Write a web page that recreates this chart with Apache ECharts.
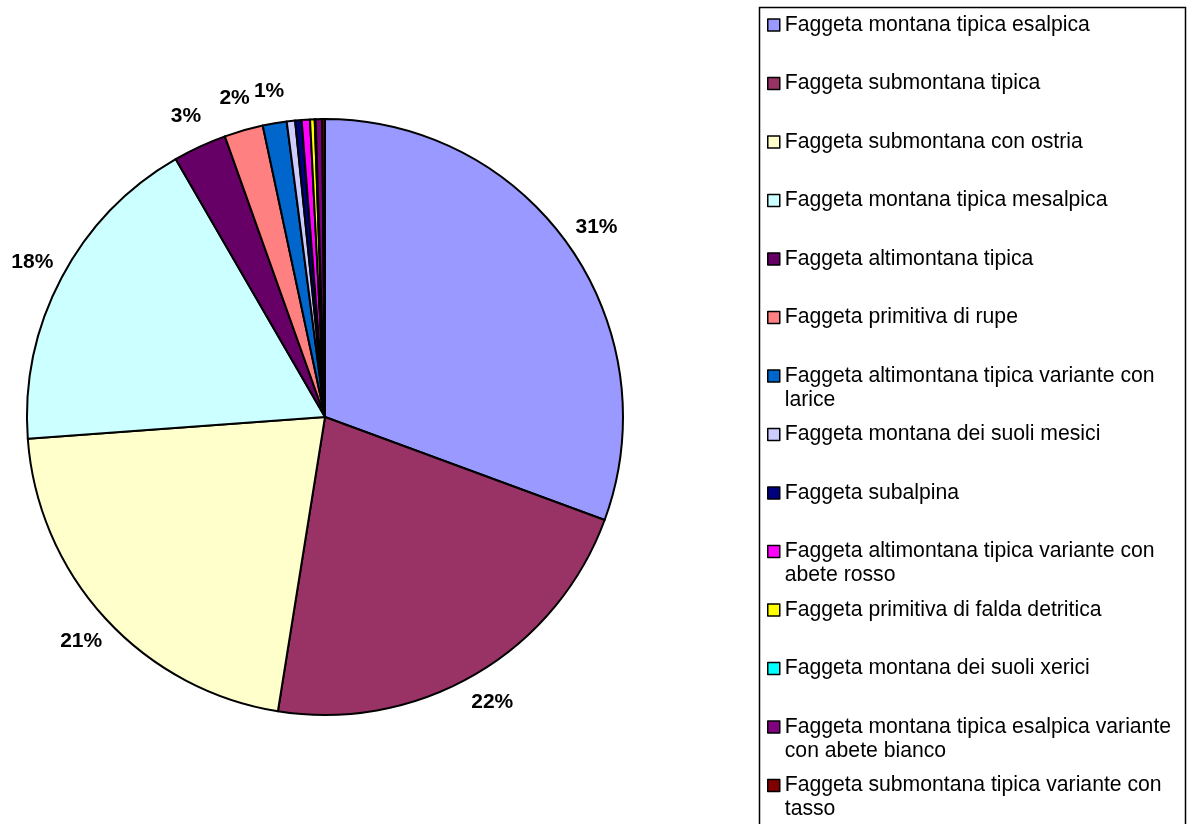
<!DOCTYPE html>
<html>
<head>
<meta charset="utf-8">
<script src="https://cdn.jsdelivr.net/npm/echarts@6/dist/echarts.min.js"></script>
<style>
  html, body { margin: 0; padding: 0; background: #fff; }
  #chart { width: 1193px; height: 824px; }
</style>
</head>
<body>
<div id="chart"></div>
<script>
// categories (legend order = slice order, clockwise from 12 o'clock)
const categories = [
  'Faggeta montana tipica esalpica',
  'Faggeta submontana tipica',
  'Faggeta submontana con ostria',
  'Faggeta montana tipica mesalpica',
  'Faggeta altimontana tipica',
  'Faggeta primitiva di rupe',
  'Faggeta altimontana tipica variante con larice',
  'Faggeta montana dei suoli mesici',
  'Faggeta subalpina',
  'Faggeta altimontana tipica variante con abete rosso',
  'Faggeta primitiva di falda detritica',
  'Faggeta montana dei suoli xerici',
  'Faggeta montana tipica esalpica variante con abete bianco',
  'Faggeta submontana tipica variante con tasso'
]
// legend text as it wraps in the picture
const legendLabels = [
  'Faggeta montana tipica esalpica',
  'Faggeta submontana tipica',
  'Faggeta submontana con ostria',
  'Faggeta montana tipica mesalpica',
  'Faggeta altimontana tipica',
  'Faggeta primitiva di rupe',
  'Faggeta altimontana tipica variante con\nlarice',
  'Faggeta montana dei suoli mesici',
  'Faggeta subalpina',
  'Faggeta altimontana tipica variante con\nabete rosso',
  'Faggeta primitiva di falda detritica',
  'Faggeta montana dei suoli xerici',
  'Faggeta montana tipica esalpica variante\ncon abete bianco',
  'Faggeta submontana tipica variante con\ntasso'
]
// share of area (%)
const values = [30.6, 21.9, 21.3, 17.8, 2.9, 2.1, 1.3, 0.45, 0.35, 0.45, 0.25, 0.05, 0.35, 0.15]
const colors = ['#9999FF', '#993366', '#FFFFCC', '#CCFFFF', '#660066', '#FF8080', '#0066CC',
                '#CCCCFF', '#000080', '#FF00FF', '#FFFF00', '#00FFFF', '#800080', '#800000']

const chart = echarts.init(document.getElementById('chart'), null, {renderer: 'canvas'})

const total = values.reduce((a, b) => a + b, 0)
const pieData = categories.map((name, i) => ({
  name: name,
  value: values[i],
  itemStyle: {color: colors[i]},
  label: {show: Math.round(values[i] / total * 100) >= 1}
}))

// every legend entry is 3 lines tall so the first text line sits beside the icon
const labelMap = {}
categories.forEach((c, i) => {
  const l = legendLabels[i]
  labelMap[c] = l.indexOf('\n') >= 0 ? ' \n' + l : ' \n' + l + '\n '
})

const LABEL_DIST = 33

chart.setOption({
  animation: false,
  backgroundColor: '#fff',
  graphic: [{
    type: 'rect',
    shape: {x: 759.5, y: 7.5, width: 426, height: 830},
    style: {fill: 'none', stroke: '#000', lineWidth: 1.5},
    silent: true
  }],
  legend: {
    orient: 'vertical',
    left: 767,
    top: -11,
    padding: 0,
    itemGap: -13.5,
    itemWidth: 12,
    itemHeight: 12,
    icon: 'rect',
    selectedMode: false,
    itemStyle: {borderColor: '#000', borderWidth: 1.5},
    formatter: name => labelMap[name],
    data: categories,
    textStyle: {
      fontFamily: 'Liberation Sans, Arial, sans-serif',
      fontSize: 21.2,
      lineHeight: 24,
      color: '#000'
    }
  },
  series: [{
    type: 'pie',
    center: [325, 417],
    radius: 298,
    startAngle: 90,
    clockwise: true,
    avoidLabelOverlap: false,
    itemStyle: {borderColor: '#000', borderWidth: 2},
    label: {
      position: 'outside',
      // each percentage rounded on its own, as Excel does
      formatter: p => Math.round(p.value / total * 100) + '%',
      fontFamily: 'Liberation Sans, Arial, sans-serif',
      fontWeight: 'bold',
      fontSize: 21,
      color: '#000'
    },
    labelLine: {show: true, length: LABEL_DIST, length2: 0, lineStyle: {opacity: 0}},
    // centre each label on the ray through the slice middle
    labelLayout: function (params) {
      const pts = params.labelLinePoints
      if (!pts) return {}
      return {x: pts[1][0], y: pts[1][1], align: 'center', verticalAlign: 'middle'}
    },
    emphasis: {disabled: true},
    data: pieData
  }]
})
</script>
</body>
</html>
